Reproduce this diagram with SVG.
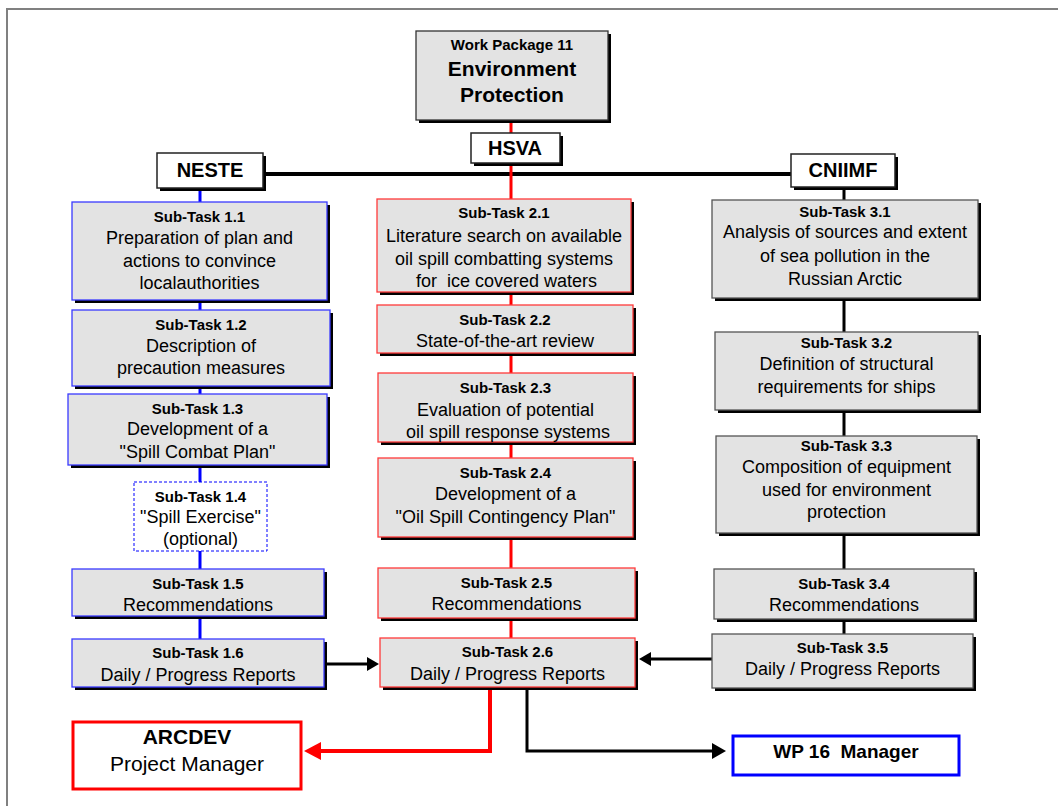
<svg xmlns="http://www.w3.org/2000/svg" width="1058" height="806" viewBox="0 0 1058 806">
<defs>
<style>
text{font-family:"Liberation Sans",Arial,sans-serif;text-anchor:middle;fill:#000;white-space:pre}
.h{font-size:15px;font-weight:bold}
.x{font-size:18px}
.lb{font-size:20px;font-weight:bold}
.sh{fill:#000}
.box{fill:#e3e3e3;stroke-width:1.3}
.bl{stroke:#3a3aff}
.rd{stroke:#ff3a3a}
.gy{stroke:#555}
.wb{fill:#fff;stroke:#222;stroke-width:1.5}
</style>
</defs>
<rect width="1058" height="806" fill="#fff"/>
<path d="M7,806 V9 H1058" fill="none" stroke="#808080" stroke-width="2"/>

<g id="connectors">
<line x1="263" y1="174" x2="791" y2="174" stroke="#000" stroke-width="4"/>
<line x1="200" y1="188" x2="200" y2="639" stroke="#0000ff" stroke-width="3"/>
<line x1="511" y1="120" x2="511" y2="638" stroke="#ff0000" stroke-width="3"/>
<line x1="844" y1="187" x2="844" y2="634" stroke="#000" stroke-width="3"/>
<line x1="327" y1="664" x2="368" y2="664" stroke="#000" stroke-width="3"/>
<polygon points="379,664 367,657 367,671" fill="#000"/>
<line x1="712" y1="659" x2="650" y2="659" stroke="#000" stroke-width="3"/>
<polygon points="639,659 651,652 651,666" fill="#000"/>
<polyline points="490,690 490,751 318,751" fill="none" stroke="#ff0000" stroke-width="4"/>
<polygon points="304,751 321,742 321,760" fill="#ff0000"/>
<polyline points="527,690 527,751 713,751" fill="none" stroke="#000" stroke-width="3"/>
<polygon points="726,751 712,743 712,759" fill="#000"/>
</g>

<g id="wp11">
<rect class="sh" x="419" y="34" width="192" height="89"/>
<rect x="416" y="31" width="192" height="89" fill="#e3e3e3" stroke="#333" stroke-width="1.3"/>
<text x="512" y="50" style="font-size:15px;font-weight:bold">Work Package 11</text>
<text x="512" y="76" style="font-size:21px;font-weight:bold">Environment</text>
<text x="512" y="102" style="font-size:21px;font-weight:bold">Protection</text>
</g>
<g id="hsva">
<rect class="sh" x="474" y="136" width="89" height="30"/>
<rect class="wb" x="471" y="133" width="89" height="30"/>
<text class="lb" x="515" y="155">HSVA</text>
</g>
<g id="neste">
<rect class="sh" x="160" y="156" width="106" height="35"/>
<rect class="wb" x="157" y="153" width="106" height="35"/>
<text class="lb" x="210" y="177">NESTE</text>
</g>
<g id="cniimf">
<rect class="sh" x="794" y="157" width="104" height="33"/>
<rect class="wb" x="791" y="154" width="104" height="33"/>
<text class="lb" x="843" y="177">CNIIMF</text>
</g>

<g id="st11">
<rect class="sh" x="75" y="205" width="255" height="98"/>
<rect class="box bl" x="72" y="202" width="255" height="98"/>
<text class="h" x="199.5" y="222">Sub-Task 1.1</text>
<text class="x" x="199.5" y="244">Preparation of plan and</text>
<text class="x" x="199.5" y="267">actions to convince</text>
<text class="x" x="199.5" y="289">localauthorities</text>
</g>
<g id="st12">
<rect class="sh" x="75" y="313" width="258" height="76"/>
<rect class="box bl" x="72" y="310" width="258" height="76"/>
<text class="h" x="201" y="330">Sub-Task 1.2</text>
<text class="x" x="201" y="352">Description of</text>
<text class="x" x="201" y="374">precaution measures</text>
</g>
<g id="st13">
<rect class="sh" x="71" y="397" width="259" height="71"/>
<rect class="box bl" x="68" y="394" width="259" height="71"/>
<text class="h" x="197.5" y="414">Sub-Task 1.3</text>
<text class="x" x="197.5" y="435">Development of a</text>
<text class="x" x="197.5" y="458">"Spill Combat Plan"</text>
</g>
<g id="st14">
<rect x="134" y="482" width="133" height="69" fill="#fff" stroke="#0000ff" stroke-width="1" stroke-dasharray="3,2"/>
<text class="h" x="200.5" y="502">Sub-Task 1.4</text>
<text class="x" x="200.5" y="523">"Spill Exercise"</text>
<text class="x" x="200.5" y="545">(optional)</text>
</g>
<g id="st15">
<rect class="sh" x="75" y="572" width="252" height="47"/>
<rect class="box bl" x="72" y="569" width="252" height="47"/>
<text class="h" x="198" y="589">Sub-Task 1.5</text>
<text class="x" x="198" y="611">Recommendations</text>
</g>
<g id="st16">
<rect class="sh" x="75" y="642" width="252" height="48"/>
<rect class="box bl" x="72" y="639" width="252" height="48"/>
<text class="h" x="198" y="658">Sub-Task 1.6</text>
<text class="x" x="198" y="681">Daily / Progress Reports</text>
</g>

<g id="st21">
<rect class="sh" x="380" y="202" width="254" height="93"/>
<rect class="box rd" x="377" y="199" width="254" height="93"/>
<text class="h" x="504" y="218">Sub-Task 2.1</text>
<text class="x" x="504" y="242">Literature search on available</text>
<text class="x" x="504" y="265">oil spill combatting systems</text>
<text class="x" x="504" y="287"> for  ice covered waters</text>
</g>
<g id="st22">
<rect class="sh" x="380" y="308" width="256" height="48"/>
<rect class="box rd" x="377" y="305" width="256" height="48"/>
<text class="h" x="505" y="325">Sub-Task 2.2</text>
<text class="x" x="505" y="347">State-of-the-art review</text>
</g>
<g id="st23">
<rect class="sh" x="381" y="376" width="255" height="69"/>
<rect class="box rd" x="378" y="373" width="255" height="69"/>
<text class="h" x="505.5" y="393">Sub-Task 2.3</text>
<text class="x" x="505.5" y="416">Evaluation of potential</text>
<text class="x" x="505.5" y="438"> oil spill response systems</text>
</g>
<g id="st24">
<rect class="sh" x="381" y="461" width="255" height="79"/>
<rect class="box rd" x="378" y="458" width="255" height="79"/>
<text class="h" x="505.5" y="478">Sub-Task 2.4</text>
<text class="x" x="505.5" y="500">Development of a</text>
<text class="x" x="505.5" y="523">"Oil Spill Contingency Plan"</text>
</g>
<g id="st25">
<rect class="sh" x="381" y="571" width="257" height="50"/>
<rect class="box rd" x="378" y="568" width="257" height="50"/>
<text class="h" x="506.5" y="588">Sub-Task 2.5</text>
<text class="x" x="506.5" y="610">Recommendations</text>
</g>
<g id="st26">
<rect class="sh" x="383" y="641" width="255" height="49"/>
<rect class="box rd" x="380" y="638" width="255" height="49"/>
<text class="h" x="507.5" y="657">Sub-Task 2.6</text>
<text class="x" x="507.5" y="680">Daily / Progress Reports</text>
</g>

<g id="st31">
<rect class="sh" x="715" y="203" width="266" height="98"/>
<rect class="box gy" x="712" y="200" width="266" height="98"/>
<text class="h" x="845" y="217">Sub-Task 3.1</text>
<text class="x" x="845" y="238">Analysis of sources and extent</text>
<text class="x" x="845" y="262">of sea pollution in the</text>
<text class="x" x="845" y="285">Russian Arctic</text>
</g>
<g id="st32">
<rect class="sh" x="718" y="335" width="263" height="78"/>
<rect class="box gy" x="715" y="332" width="263" height="78"/>
<text class="h" x="846.5" y="348">Sub-Task 3.2</text>
<text class="x" x="846.5" y="370">Definition of structural</text>
<text class="x" x="846.5" y="393">requirements for ships</text>
</g>
<g id="st33">
<rect class="sh" x="719" y="439" width="261" height="97"/>
<rect class="box gy" x="716" y="436" width="261" height="97"/>
<text class="h" x="846.5" y="451">Sub-Task 3.3</text>
<text class="x" x="846.5" y="473">Composition of equipment</text>
<text class="x" x="846.5" y="496">used for environment</text>
<text class="x" x="846.5" y="518">protection</text>
</g>
<g id="st34">
<rect class="sh" x="717" y="572" width="260" height="50"/>
<rect class="box gy" x="714" y="569" width="260" height="50"/>
<text class="h" x="844" y="589">Sub-Task 3.4</text>
<text class="x" x="844" y="611">Recommendations</text>
</g>
<g id="st35">
<rect class="sh" x="715" y="637" width="261" height="54"/>
<rect class="box gy" x="712" y="634" width="261" height="54"/>
<text class="h" x="842.5" y="653">Sub-Task 3.5</text>
<text class="x" x="842.5" y="675">Daily / Progress Reports</text>
</g>

<g id="arcdev">
<rect x="73" y="722" width="228" height="67" fill="#fff" stroke="#ff0000" stroke-width="3"/>
<text x="187" y="744" style="font-size:21px;font-weight:bold">ARCDEV</text>
<text x="187" y="771" style="font-size:21px">Project Manager</text>
</g>
<g id="wp16">
<rect x="733" y="736" width="226" height="39" fill="#fff" stroke="#0000ff" stroke-width="3"/>
<text x="846" y="758" style="font-size:19px;font-weight:bold">WP 16  Manager</text>
</g>
</svg>
